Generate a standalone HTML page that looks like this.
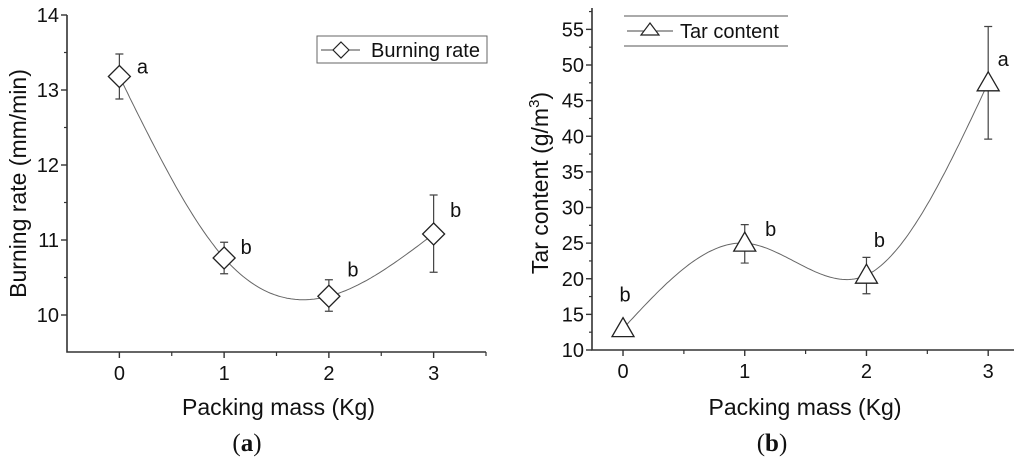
<!DOCTYPE html>
<html><head><meta charset="utf-8">
<style>
body{margin:0;background:#fff;width:1024px;height:465px;overflow:hidden}
svg{font-family:"Liberation Sans",Arial,sans-serif}
</style></head>
<body>
<svg id="c" width="1024" height="465"></svg>
<script>
const catsA=[0,1,2,3];
const valsA=[13.18,10.76,10.25,11.08];
const errLoA=[12.88,10.55,10.05,10.57];
const errHiA=[13.48,10.97,10.47,11.60];
const lettersA=['a','b','b','b'];
const yTicksA=[10,11,12,13,14];
const catsB=[0,1,2,3];
const valsB=[13,25,20.5,47.5];
const errLoB=[13,22.2,17.9,39.6];
const errHiB=[13,27.6,23.0,55.4];
const lettersB=['b','b','b','a'];
const yTicksB=[10,15,20,25,30,35,40,45,50,55];
const xTicks=[0,1,2,3];

const svg=document.getElementById('c');
const NS='http://www.w3.org/2000/svg';
function mk(t,a,p){const e=document.createElementNS(NS,t);for(const k in a)e.setAttribute(k,a[k]);(p||svg).appendChild(e);return e;}
function txt(s,x,y,size,anchor,p){const e=mk('text',{x:x,y:y,'font-size':size,'text-anchor':anchor||'middle',fill:'#111'},p);e.textContent=s;return e;}

function spline(xs,ys){const n=xs.length,h=[],al=[0],l=[1],mu=[0],z=[0],c=new Array(n).fill(0),b=[],d=[];
for(let i=0;i<n-1;i++)h.push(xs[i+1]-xs[i]);
for(let i=1;i<n-1;i++)al.push(3/h[i]*(ys[i+1]-ys[i])-3/h[i-1]*(ys[i]-ys[i-1]));
for(let i=1;i<n-1;i++){l[i]=2*(xs[i+1]-xs[i-1])-h[i-1]*mu[i-1];mu[i]=h[i]/l[i];z[i]=(al[i]-h[i-1]*z[i-1])/l[i];}
for(let j=n-2;j>=1;j--){c[j]=z[j]-mu[j]*c[j+1];}
for(let j=0;j<n-1;j++){b[j]=(ys[j+1]-ys[j])/h[j]-h[j]*(c[j+1]+2*c[j])/3;d[j]=(c[j+1]-c[j])/(3*h[j]);}
return t=>{let j=Math.min(Math.max(0,Math.floor(t-xs[0])),n-2);const dx=t-xs[j];return ys[j]+b[j]*dx+c[j]*dx*dx+d[j]*dx*dx*dx;};}

function chart(o){
 const g=mk('g',{});
 const X=v=>o.x0+(v-o.xmin)*(o.x1-o.x0)/(o.xmax-o.xmin);
 const Y=v=>o.y0-(v-o.ymin)*(o.y0-o.y1)/(o.ymax-o.ymin);
 const ax=mk('path',{d:`M${o.x0},${o.y1}V${o.y0}H${o.x1}`,stroke:'#333','stroke-width':1.6,fill:'none'},g);
 
 o.yTicks.forEach(v=>{mk('line',{x1:o.x0-6,x2:o.x0,y1:Y(v),y2:Y(v),stroke:'#333','stroke-width':1.4},g);
  const t=txt(String(v),o.x0-8,Y(v)+7,20,'end',g);});
 for(let v=o.yTicks[0]-o.ystep/2;v<=o.ymax;v+=o.ystep){if(v>=o.ymin)mk('line',{x1:o.x0-3,x2:o.x0,y1:Y(v),y2:Y(v),stroke:'#333','stroke-width':1.2},g);}
 xTicks.forEach(v=>{mk('line',{x1:X(v),x2:X(v),y1:o.y0,y2:o.y0+6,stroke:'#333','stroke-width':1.4},g);
  const t=txt(String(v),X(v),o.y0+28,20,'middle',g);
  if(X(v+0.5)<=o.x1+1)mk('line',{x1:X(v+0.5),x2:X(v+0.5),y1:o.y0,y2:o.y0+4,stroke:'#333','stroke-width':1.2},g);});
 const f=spline(o.cats,o.vals);let d='';
 for(let t=o.cats[0];t<=o.cats[o.cats.length-1]+1e-9;t+=0.02)d+=(d?'L':'M')+X(t).toFixed(1)+','+Y(f(t)).toFixed(1);
 const cu=mk('path',{d:d,stroke:'#666','stroke-width':1,fill:'none'},g);
 o.cats.forEach((c,i)=>{const x=X(c);
  const e=mk('path',{d:`M${x},${Y(o.lo[i])}V${Y(o.hi[i])}M${x-4},${Y(o.lo[i])}h8M${x-4},${Y(o.hi[i])}h8`,stroke:'#444','stroke-width':1.2,fill:'none'},g);
  
  const y=Y(o.vals[i]);let m;
  if(o.marker==='d')m=mk('path',{d:`M${x},${y-11}L${x+11},${y}L${x},${y+11}L${x-11},${y}Z`,fill:'#fff',stroke:'#222','stroke-width':1.3},g);
  else m=mk('path',{d:`M${x},${y-11}L${x+11},${y+8}L${x-11},${y+8}Z`,fill:'#fff',stroke:'#222','stroke-width':1.3},g);
  
  const lt=txt(o.letters[i],x+o.lOff[i][0],y+o.lOff[i][1],20,'middle',g);});
 const yt=mk('text',{x:0,y:0,'font-size':23,'text-anchor':'middle',fill:'#111'},g);yt.innerHTML=o.ytitle;
 yt.setAttribute('transform',`translate(${o.ytx},${(o.y0+o.y1)/2+o.ydy}) rotate(-90)`);
 
 const xt=txt('Packing mass (Kg)',(o.x0+o.x1)/2+2,415,23,'middle',g);
 const pl=mk('text',{x:o.plx,y:451,'font-size':25,'text-anchor':'middle','font-family':'Liberation Serif,serif',fill:'#111'},g);
 pl.innerHTML='(<tspan font-weight="bold">'+o.panel+'</tspan>)';
 return {g,X,Y};
}

chart({name:'chart-burning-rate',x0:67,x1:486,y0:352,y1:15,xmin:-0.5,xmax:3.5,ymin:9.5067,ymax:14,ystep:1,
 yTicks:yTicksA,cats:catsA,vals:valsA,lo:errLoA,hi:errHiA,letters:lettersA,marker:'d',
 lOff:[[23,-3],[22,-4],[24,-20],[22,-17]],ytitle:'Burning rate (mm/min)',ytx:26,ydy:0,panel:'a',plx:247});
const lgA=mk('g',{});
mk('rect',{x:317,y:36,width:170,height:27,fill:'#fff',stroke:'#666','stroke-width':1},lgA);
mk('line',{x1:321,x2:360,y1:50,y2:50,stroke:'#444','stroke-width':1},lgA);
mk('path',{d:'M341,42L349,50L341,58L333,50Z',fill:'#fff',stroke:'#222','stroke-width':1.2},lgA);
txt('Burning rate',371,57,20,'start',lgA);

chart({name:'chart-tar-content',x0:592,x1:1014,y0:350,y1:8,xmin:-0.2548,xmax:3.212,ymin:10,ymax:58,ystep:5,
 yTicks:yTicksB,cats:catsB,vals:valsB,lo:errLoB,hi:errHiB,letters:lettersB,marker:'t',
 lOff:[[2,-27],[26,-7],[13,-28],[15,-17]],ytitle:'Tar content (g/m<tspan font-size="15" dy="-9">3</tspan><tspan dy="9">)</tspan>',ytx:548,ydy:4,panel:'b',plx:772});
const lgB=mk('g',{});
mk('line',{x1:624,x2:788,y1:16,y2:16,stroke:'#555','stroke-width':1},lgB);
mk('line',{x1:624,x2:788,y1:46,y2:46,stroke:'#555','stroke-width':1},lgB);
mk('line',{x1:627,x2:673,y1:31,y2:31,stroke:'#444','stroke-width':1},lgB);
mk('path',{d:'M650,23L659,35L641,35Z',fill:'#fff',stroke:'#222','stroke-width':1.2},lgB);
txt('Tar content',680,38,20,'start',lgB);
</script>
</body></html>
